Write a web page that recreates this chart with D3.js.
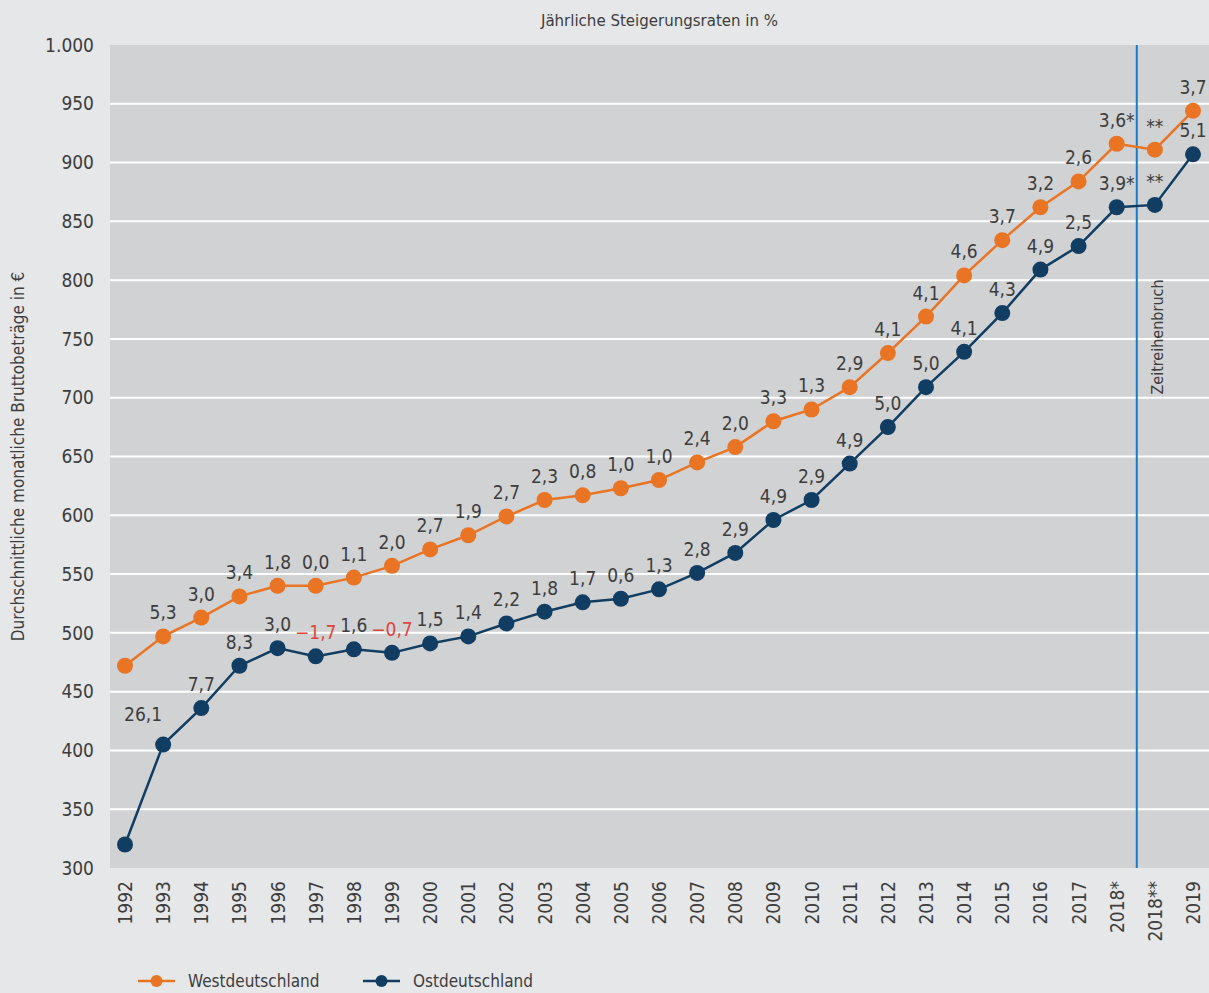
<!DOCTYPE html>
<html>
<head>
<meta charset="utf-8">
<script src="https://cdn.jsdelivr.net/npm/d3@7"></script>
<style>
  body { margin: 0; background: #e6e7e9; }
  text { font-family: "Liberation Sans Narrow", "DejaVu Sans Condensed", sans-serif; fill: #3d3d3d; }
</style>
</head>
<body>
<div id="chart"></div>
<script>
// Jahre (Kategorien)
const years = ["1992", "1993", "1994", "1995", "1996", "1997", "1998", "1999", "2000",
  "2001", "2002", "2003", "2004", "2005", "2006", "2007", "2008", "2009", "2010",
  "2011", "2012", "2013", "2014", "2015", "2016", "2017", "2018*", "2018**", "2019"];

// Durchschnittliche Bruttobeträge in €
const west = [472, 497, 513, 531, 540, 540, 547, 557, 571, 583, 599, 613, 617, 623, 630,
  645, 658, 680, 690, 709, 738, 769, 804, 834, 862, 884, 916, 911, 944];
const east = [320, 405, 436, 472, 487, 480, 486, 483, 491, 497, 508, 518, 526, 529, 537,
  551, 568, 596, 613, 644, 675, 709, 739, 772, 809, 829, 862, 864, 907];

// Steigerungsraten (Beschriftungen)
const westLabels = ["", "5,3", "3,0", "3,4", "1,8", "0,0", "1,1", "2,0", "2,7", "1,9", "2,7",
  "2,3", "0,8", "1,0", "1,0", "2,4", "2,0", "3,3", "1,3", "2,9", "4,1", "4,1", "4,6", "3,7",
  "3,2", "2,6", "3,6*", "**", "3,7"];
const eastLabels = ["", "26,1", "7,7", "8,3", "3,0", "\u22121,7", "1,6", "\u22120,7", "1,5",
  "1,4", "2,2", "1,8", "1,7", "0,6", "1,3", "2,8", "2,9", "4,9", "2,9", "4,9", "5,0", "5,0",
  "4,1", "4,3", "4,9", "2,5", "3,9*", "**", "5,1"];

const yTicks = [300, 350, 400, 450, 500, 550, 600, 650, 700, 750, 800, 850, 900, 950, 1000];

const width = 1209, height = 993;
const plotLeft = 110, plotRight = 1209, plotTop = 45, plotBottom = 868;

const orange = "#e87424", navy = "#113d63";

const svg = d3.select("#chart").append("svg")
  .attr("width", width).attr("height", height);

svg.append("rect").attr("width", width).attr("height", height).attr("fill", "#e6e7e9");

// Plotfläche
svg.append("rect")
  .attr("x", plotLeft).attr("y", plotTop)
  .attr("width", plotRight - plotLeft).attr("height", plotBottom - plotTop)
  .attr("fill", "#d1d2d4");

const x = d3.scalePoint().domain(years).range([125, 1193]);
const y = d3.scaleLinear().domain([300, 1000]).range([plotBottom, plotTop]);

// Gitterlinien
svg.append("g").selectAll("line")
  .data(yTicks.filter(d => d > 300 && d < 1000))
  .join("line")
  .attr("x1", plotLeft).attr("x2", plotRight)
  .attr("y1", d => y(d)).attr("y2", d => y(d))
  .attr("stroke", "#fff").attr("stroke-width", 2);

// Y-Achse
const fmt = d => d >= 1000 ? d3.format(",")(d).replace(",", ".") : d;
svg.append("g").selectAll("text")
  .data(yTicks)
  .join("text")
  .attr("x", 94).attr("y", d => y(d))
  .attr("dy", "0.35em")
  .attr("text-anchor", "end")
  .attr("font-size", 19)
  .text(fmt);

svg.append("text")
  .attr("transform", `translate(24,${(plotTop + plotBottom) / 2}) rotate(-90)`)
  .attr("text-anchor", "middle")
  .attr("font-size", 17)
  .text("Durchschnittliche monatliche Bruttobeträge in €");

// X-Achse
svg.append("g").selectAll("text")
  .data(years)
  .join("text")
  .attr("transform", d => `translate(${x(d) + 7},881) rotate(-90)`)
  .attr("text-anchor", "end")
  .attr("font-size", 19)
  .text(d => d);

// Titel
svg.append("text")
  .attr("x", (plotLeft + plotRight) / 2).attr("y", 26)
  .attr("text-anchor", "middle")
  .attr("font-size", 16.7)
  .text("Jährliche Steigerungsraten in %");

// Zeitreihenbruch
const xBreak = (x("2018*") + x("2018**")) / 2 + 1;
svg.append("line")
  .attr("x1", xBreak).attr("x2", xBreak)
  .attr("y1", plotTop).attr("y2", plotBottom)
  .attr("stroke", "#1b7bc6").attr("stroke-width", 2);
svg.append("text")
  .attr("transform", `translate(${xBreak + 26},337) rotate(-90)`)
  .attr("text-anchor", "middle")
  .attr("font-size", 16)
  .text("Zeitreihenbruch");

const line = d3.line().x((d, i) => x(years[i])).y(d => y(d));

function drawSeries(values, labels, color, isEast) {
  svg.append("path")
    .datum(values)
    .attr("d", line)
    .attr("fill", "none")
    .attr("stroke", color)
    .attr("stroke-width", 2.5);

  svg.append("g").selectAll("circle")
    .data(values)
    .join("circle")
    .attr("cx", (d, i) => x(years[i]))
    .attr("cy", d => y(d))
    .attr("r", 8)
    .attr("fill", color);

  svg.append("g").selectAll("text")
    .data(values)
    .join("text")
    .attr("x", (d, i) => x(years[i]) + (isEast && i === 1 ? -20 : 0))
    .attr("y", (d, i) => y(d) - (isEast && i === 1 ? 24 : 17))
    .attr("text-anchor", "middle")
    .attr("font-size", 19)
    .style("fill", (d, i) => labels[i].startsWith("\u2212") ? "#e0443a" : "#3d3d3d")
    .text((d, i) => labels[i]);
}

drawSeries(west, westLabels, orange, false);
drawSeries(east, eastLabels, navy, true);

// Legende
const legend = [
  { name: "Westdeutschland", color: orange, x: 138 },
  { name: "Ostdeutschland", color: navy, x: 363 }
];
const lg = svg.append("g").selectAll("g").data(legend).join("g")
  .attr("transform", d => `translate(${d.x},981)`);
lg.append("line").attr("x1", 0).attr("x2", 37)
  .attr("stroke", d => d.color).attr("stroke-width", 2.5);
lg.append("circle").attr("cx", 18.5).attr("r", 6).attr("fill", d => d.color);
lg.append("text").attr("x", 50).attr("dy", "0.35em")
  .attr("font-size", 17)
  .text(d => d.name);
</script>
</body>
</html>
